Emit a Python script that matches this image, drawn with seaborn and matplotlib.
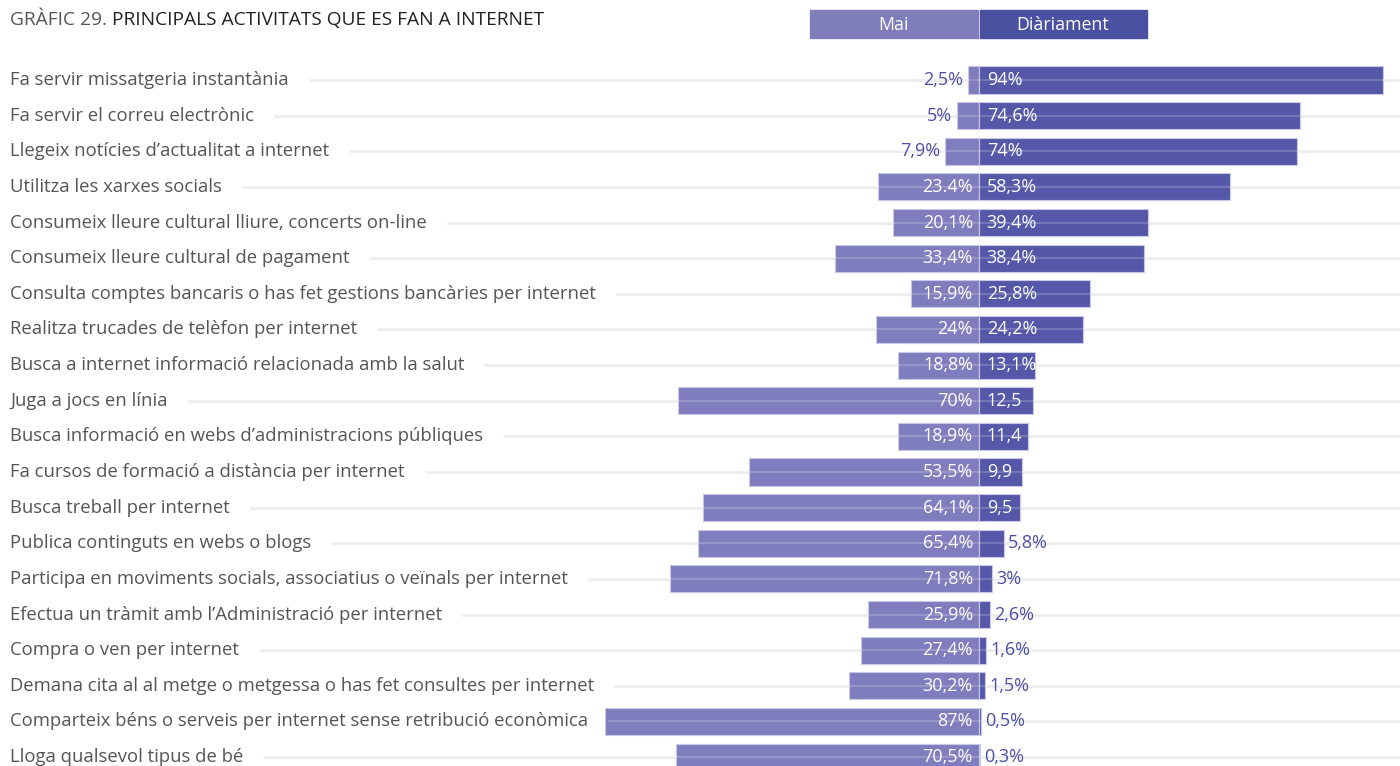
"""
Gràfic 29: principals activitats que es fan a internet (barres divergents).
"""

import numpy as np
import pandas as pd
import matplotlib
matplotlib.use("Agg")
import matplotlib.pyplot as plt
import matplotlib.patches as mpatches
from matplotlib.transforms import blended_transform_factory
import seaborn as sns

# dades
activitats = [
    "Fa servir missatgeria instantània",
    "Fa servir el correu electrònic",
    "Llegeix notícies d’actualitat a internet",
    "Utilitza les xarxes socials",
    "Consumeix lleure cultural lliure, concerts on-line",
    "Consumeix lleure cultural de pagament",
    "Consulta comptes bancaris o has fet gestions bancàries per internet",
    "Realitza trucades de telèfon per internet",
    "Busca a internet informació relacionada amb la salut",
    "Juga a jocs en línia",
    "Busca informació en webs d’administracions públiques",
    "Fa cursos de formació a distància per internet",
    "Busca treball per internet",
    "Publica continguts en webs o blogs",
    "Participa en moviments socials, associatius o veïnals per internet",
    "Efectua un tràmit amb l’Administració per internet",
    "Compra o ven per internet",
    "Demana cita al al metge o metgessa o has fet consultes per internet",
    "Comparteix béns o serveis per internet sense retribució econòmica",
    "Lloga qualsevol tipus de bé",
]
mai = [2.5, 5, 7.9, 23.4, 20.1, 33.4, 15.9, 24, 18.8, 70,
       18.9, 53.5, 64.1, 65.4, 71.8, 25.9, 27.4, 30.2, 87, 70.5]
diariament = [94, 74.6, 74, 58.3, 39.4, 38.4, 25.8, 24.2, 13.1, 12.5,
              11.4, 9.9, 9.5, 5.8, 3, 2.6, 1.6, 1.5, 0.5, 0.3]
etiq_mai = ["2,5%", "5%", "7,9%", "23.4%", "20,1%", "33,4%", "15,9%", "24%",
            "18,8%", "70%", "18,9%", "53,5%", "64,1%", "65,4%", "71,8%",
            "25,9%", "27,4%", "30,2%", "87%", "70,5%"]
etiq_diari = ["94%", "74,6%", "74%", "58,3%", "39,4%", "38,4%", "25,8%",
              "24,2%", "13,1%", "12,5", "11,4", "9,9", "9,5", "5,8%", "3%",
              "2,6%", "1,6%", "1,5%", "0,5%", "0,3%"]
llegenda = ["Mai", "Diàriament"]

COL_MAI = "#7f7dbd"
COL_DIARI = "#5558a8"
COL_TEXT = "#4a4fa5"
COL_LABEL = "#555555"

sns.set_style("white")
plt.rcParams["font.family"] = ["Open Sans", "DejaVu Sans"]

df = pd.DataFrame({"activitat": activitats,
                   "mai": -np.array(mai),
                   "diari": np.array(diariament)})

fig = plt.figure(figsize=(14, 7.66), dpi=100)
ax = fig.add_axes([0, 0, 1, 1])

sns.barplot(data=df, y="activitat", x="mai", color=COL_MAI, saturation=1,
            width=0.76, edgecolor="#c9c8e6", linewidth=0.8, ax=ax, zorder=2)
sns.barplot(data=df, y="activitat", x="diari", color=COL_DIARI, saturation=1,
            width=0.76, edgecolor="#c9c8e6", linewidth=0.8, ax=ax, zorder=2)

# escala: centre a 979 px, 4.3 px per punt percentual
ax.set_xlim(-979 / 4.3, 421 / 4.3)
ax.set_ylim(19.25, -2.245)
ax.axis("off")

fs = 13.3
fs_val = 13.0
dy = 0.0
trans_lab = blended_transform_factory(ax.transAxes, ax.transData)
labels = []
for i, nom in enumerate(activitats):
    t = ax.text(10 / 1400, i + dy, nom, transform=trans_lab, ha="left",
                va="center", fontsize=fs, color=COL_LABEL, zorder=5)
    labels.append(t)

# valors
for i, (m, d) in enumerate(zip(mai, diariament)):
    if m > 10:
        ax.text(-1.4, i + dy, etiq_mai[i], ha="right", va="center",
                fontsize=fs_val, color="white", zorder=5)
    else:
        ax.text(-m - 1.2, i + dy, etiq_mai[i], ha="right", va="center",
                fontsize=fs_val, color=COL_TEXT, zorder=5)
    if d > 9:
        ax.text(1.8, i + dy, etiq_diari[i], ha="left", va="center",
                fontsize=fs_val, color="white", zorder=5)
    else:
        ax.text(d + 1.0, i + dy, etiq_diari[i], ha="left", va="center",
                fontsize=fs_val, color=COL_TEXT, zorder=5)

# línies de guia a partir del final de cada etiqueta
fig.canvas.draw()
renderer = fig.canvas.get_renderer()
for i, t in enumerate(labels):
    bb = t.get_window_extent(renderer)
    x0 = (bb.x1 + 20) / 1400
    ax.plot([x0, 1], [i, i], transform=trans_lab, color="#ebebeb",
            lw=2, zorder=0, solid_capstyle="butt")
    ax.plot([x0, 1], [i, i], transform=trans_lab, color="white",
            lw=1.5, alpha=0.18, zorder=3, solid_capstyle="butt")

# llegenda
fig.patches.append(mpatches.Rectangle((810 / 1400, 1 - 38 / 766), 168 / 1400,
                                      28 / 766, transform=fig.transFigure,
                                      color="#807eba", zorder=1))
fig.patches.append(mpatches.Rectangle((980 / 1400, 1 - 38 / 766), 167 / 1400,
                                      28 / 766, transform=fig.transFigure,
                                      color="#4a51a0", zorder=1))
fig.text(894 / 1400, 1 - 25 / 766, llegenda[0], ha="center", va="center",
         fontsize=12.8, color="white")
fig.text(1063 / 1400, 1 - 25 / 766, llegenda[1], ha="center", va="center",
         fontsize=12.8, color="white")

# títol
t1 = fig.text(10 / 1400, 1 - 20 / 766, "GRÀFIC 29. ", ha="left", va="center",
              fontsize=13.8, color="#555555")
fig.canvas.draw()
bb = t1.get_window_extent(fig.canvas.get_renderer())
fig.text(bb.x1 / 1400, 1 - 20 / 766, "PRINCIPALS ACTIVITATS QUE ES FAN A INTERNET",
         ha="left", va="center", fontsize=13.8, color="#222222")

fig.savefig("out.png", dpi=100)
